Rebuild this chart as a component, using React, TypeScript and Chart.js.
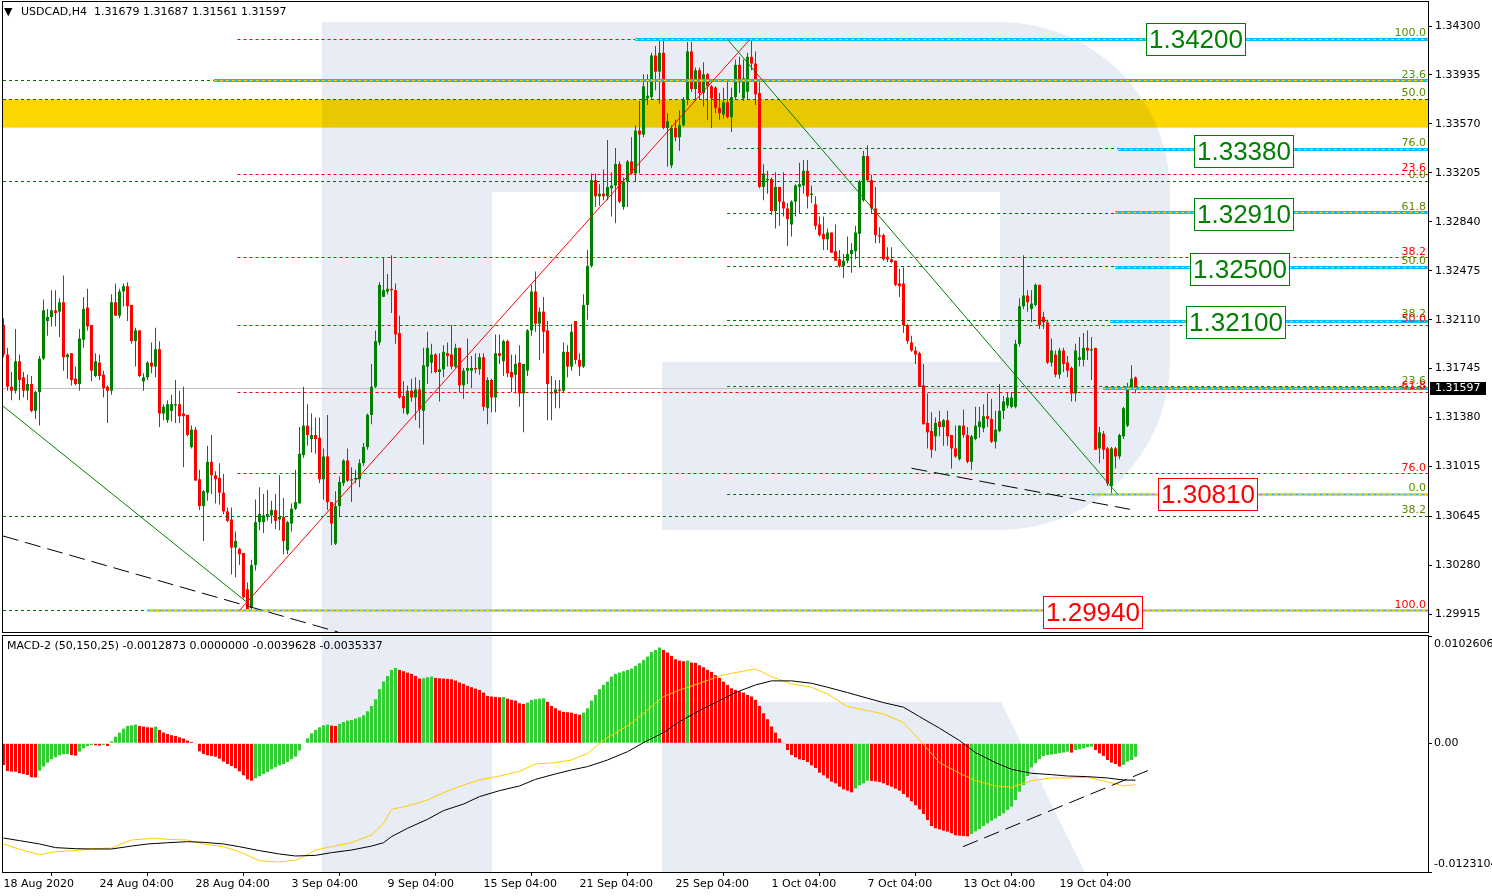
import React, { useEffect, useRef } from "react";
import { Chart, registerables } from "chart.js";
Chart.register(...registerables);

const FONT = "DejaVu Sans";
const TITLE_TEXT = "USDCAD,H4  1.31679 1.31687 1.31561 1.31597";
const MACD_TEXT = "MACD-2 (50,150,25) -0.0012873 0.0000000 -0.0039628 -0.0035337";

// [open, high, low, close] per H4 bar
const OHLC: number[][] = [
  [1.3207,1.3212,1.3183,1.3185],[1.3185,1.3190,1.3158,1.3161],[1.3161,1.3172,1.3151,1.3158],[1.3158,1.3204,1.3156,1.3180],
  [1.3180,1.3185,1.3151,1.3166],[1.3168,1.3172,1.3153,1.3158],[1.3158,1.3170,1.3151,1.3163],[1.3163,1.3169,1.3142,1.3143],
  [1.3143,1.3158,1.3137,1.3157],[1.3157,1.3184,1.3132,1.3182],[1.3182,1.3226,1.3181,1.3218],[1.3210,1.3219,1.3199,1.3213],
  [1.3213,1.3233,1.3206,1.3218],[1.3218,1.3233,1.3206,1.3216],[1.3217,1.3227,1.3198,1.3224],[1.3224,1.3244,1.3173,1.3183],
  [1.3183,1.3186,1.3167,1.3185],[1.3186,1.3186,1.3162,1.3166],[1.3167,1.3176,1.3162,1.3163],[1.3163,1.3204,1.3158,1.3197],
  [1.3196,1.3228,1.3190,1.3219],[1.3220,1.3234,1.3203,1.3206],[1.3207,1.3207,1.3165,1.3173],[1.3169,1.3186,1.3168,1.3180],
  [1.3179,1.3185,1.3166,1.3169],[1.3170,1.3173,1.3153,1.3160],[1.3161,1.3162,1.3134,1.3158],[1.3158,1.3230,1.3155,1.3224],
  [1.3224,1.3238,1.3214,1.3214],[1.3214,1.3234,1.3212,1.3232],[1.3232,1.3238,1.3221,1.3236],[1.3236,1.3239,1.3210,1.3221],
  [1.3222,1.3222,1.3193,1.3195],[1.3195,1.3205,1.3176,1.3203],[1.3203,1.3203,1.3168,1.3169],[1.3165,1.3171,1.3158,1.3168],
  [1.3168,1.3180,1.3166,1.3179],[1.3179,1.3194,1.3171,1.3176],[1.3176,1.3205,1.3168,1.3189],[1.3189,1.3195,1.3131,1.3141],
  [1.3141,1.3148,1.3136,1.3146],[1.3136,1.3151,1.3134,1.3148],[1.3143,1.3155,1.3135,1.3148],[1.3147,1.3166,1.3134,1.3148],
  [1.3148,1.3158,1.3134,1.3139],[1.3141,1.3161,1.3101,1.3139],[1.3140,1.3140,1.3124,1.3125],[1.3116,1.3132,1.3115,1.3129],
  [1.3129,1.3131,1.3091,1.3091],[1.3092,1.3099,1.3069,1.3072],[1.3072,1.3084,1.3046,1.3083],[1.3082,1.3117,1.3076,1.3105],
  [1.3105,1.3125,1.3081,1.3095],[1.3095,1.3098,1.3074,1.3092],[1.3093,1.3104,1.3073,1.3082],[1.3082,1.3096,1.3066,1.3068],
  [1.3068,1.3071,1.3060,1.3061],[1.3062,1.3071,1.3021,1.3041],[1.3041,1.3053,1.3019,1.3046],[1.3040,1.3041,1.3028,1.3036],
  [1.3037,1.3037,1.3003,1.3004],[1.3010,1.3015,1.2994,1.2995],[1.2996,1.3032,1.2994,1.3028],[1.3028,1.3077,1.3024,1.3060],
  [1.3060,1.3086,1.3054,1.3066],[1.3060,1.3081,1.3052,1.3065],[1.3064,1.3084,1.3061,1.3066],[1.3065,1.3076,1.3059,1.3069],
  [1.3069,1.3081,1.3055,1.3061],[1.3062,1.3095,1.3054,1.3064],[1.3064,1.3078,1.3036,1.3046],[1.3039,1.3061,1.3036,1.3060],
  [1.3059,1.3074,1.3053,1.3070],[1.3070,1.3099,1.3069,1.3075],[1.3074,1.3131,1.3074,1.3111],[1.3110,1.3161,1.3108,1.3132],
  [1.3132,1.3148,1.3117,1.3125],[1.3122,1.3141,1.3112,1.3125],[1.3125,1.3138,1.3111,1.3122],[1.3123,1.3138,1.3089,1.3092],
  [1.3092,1.3115,1.3077,1.3109],[1.3109,1.3140,1.3069,1.3075],[1.3075,1.3075,1.3043,1.3059],[1.3044,1.3083,1.3043,1.3072],
  [1.3072,1.3094,1.3064,1.3090],[1.3089,1.3107,1.3087,1.3106],[1.3106,1.3115,1.3090,1.3091],[1.3091,1.3101,1.3075,1.3092],
  [1.3092,1.3099,1.3089,1.3093],[1.3092,1.3107,1.3086,1.3104],[1.3104,1.3119,1.3102,1.3116],[1.3116,1.3141,1.3114,1.3140],
  [1.3140,1.3178,1.3133,1.3161],[1.3161,1.3203,1.3160,1.3195],[1.3194,1.3239,1.3192,1.3237],[1.3228,1.3257,1.3228,1.3233],
  [1.3232,1.3245,1.3230,1.3234],[1.3234,1.3259,1.3216,1.3233],[1.3233,1.3238,1.3193,1.3200],[1.3201,1.3214,1.3152,1.3153],
  [1.3154,1.3165,1.3141,1.3145],[1.3141,1.3162,1.3140,1.3158],[1.3158,1.3167,1.3150,1.3153],[1.3153,1.3168,1.3136,1.3159],
  [1.3159,1.3166,1.3130,1.3144],[1.3143,1.3190,1.3118,1.3177],[1.3176,1.3202,1.3163,1.3190],[1.3179,1.3193,1.3171,1.3185],
  [1.3185,1.3186,1.3171,1.3172],[1.3172,1.3186,1.3150,1.3174],[1.3174,1.3192,1.3168,1.3187],[1.3186,1.3194,1.3176,1.3184],
  [1.3185,1.3207,1.3174,1.3176],[1.3176,1.3193,1.3175,1.3190],[1.3190,1.3190,1.3157,1.3162],[1.3162,1.3175,1.3152,1.3173],
  [1.3173,1.3197,1.3163,1.3175],[1.3173,1.3184,1.3160,1.3175],[1.3175,1.3186,1.3171,1.3174],[1.3174,1.3186,1.3170,1.3183],
  [1.3183,1.3186,1.3143,1.3146],[1.3145,1.3168,1.3133,1.3166],[1.3166,1.3167,1.3142,1.3153],[1.3153,1.3200,1.3142,1.3186],
  [1.3186,1.3200,1.3178,1.3184],[1.3180,1.3196,1.3169,1.3195],[1.3195,1.3196,1.3168,1.3171],[1.3172,1.3185,1.3157,1.3168],
  [1.3170,1.3185,1.3156,1.3178],[1.3179,1.3192,1.3146,1.3156],[1.3156,1.3178,1.3127,1.3178],[1.3173,1.3204,1.3169,1.3203],
  [1.3203,1.3237,1.3199,1.3232],[1.3232,1.3247,1.3202,1.3208],[1.3208,1.3220,1.3181,1.3217],[1.3217,1.3228,1.3186,1.3202],
  [1.3203,1.3210,1.3136,1.3163],[1.3156,1.3169,1.3136,1.3157],[1.3156,1.3166,1.3145,1.3159],[1.3159,1.3166,1.3145,1.3158],
  [1.3158,1.3194,1.3157,1.3187],[1.3187,1.3192,1.3168,1.3176],[1.3176,1.3208,1.3173,1.3202],[1.3210,1.3210,1.3178,1.3181],
  [1.3181,1.3186,1.3169,1.3176],[1.3176,1.3230,1.3175,1.3222],[1.3222,1.3263,1.3211,1.3251],[1.3251,1.3320,1.3250,1.3315],
  [1.3315,1.3320,1.3295,1.3303],[1.3303,1.3312,1.3296,1.3305],[1.3305,1.3323,1.3300,1.3303],[1.3303,1.3345,1.3300,1.3310],
  [1.3309,1.3321,1.3288,1.3311],[1.3311,1.3339,1.3283,1.3327],[1.3327,1.3329,1.3298,1.3299],[1.3295,1.3317,1.3293,1.3314],
  [1.3314,1.3330,1.3295,1.3329],[1.3329,1.3347,1.3319,1.3320],[1.3320,1.3356,1.3314,1.3352],[1.3352,1.3374,1.3320,1.3349],
  [1.3349,1.3394,1.3347,1.3385],[1.3376,1.3394,1.3371,1.3378],[1.3377,1.3410,1.3375,1.3408],[1.3408,1.3415,1.3382,1.3396],
  [1.3396,1.3419,1.3372,1.3410],[1.3410,1.3419,1.3353,1.3354],[1.3354,1.3365,1.3325,1.3359],[1.3326,1.3356,1.3324,1.3354],
  [1.3354,1.3360,1.3344,1.3347],[1.3347,1.3367,1.3337,1.3356],[1.3356,1.3377,1.3355,1.3375],[1.3375,1.3418,1.3371,1.3411],
  [1.3411,1.3418,1.3381,1.3383],[1.3383,1.3399,1.3374,1.3397],[1.3397,1.3399,1.3375,1.3380],[1.3380,1.3403,1.3370,1.3394],
  [1.3394,1.3395,1.3360,1.3385],[1.3385,1.3386,1.3354,1.3376],[1.3384,1.3385,1.3365,1.3369],[1.3369,1.3380,1.3360,1.3365],
  [1.3364,1.3384,1.3361,1.3373],[1.3373,1.3390,1.3361,1.3362],[1.3362,1.3384,1.3351,1.3377],[1.3377,1.3405,1.3375,1.3401],
  [1.3401,1.3407,1.3380,1.3388],[1.3376,1.3405,1.3374,1.3391],[1.3381,1.3410,1.3375,1.3407],[1.3407,1.3420,1.3397,1.3402],
  [1.3402,1.3411,1.3371,1.3379],[1.3380,1.3388,1.3309,1.3310],[1.3310,1.3327,1.3300,1.3320],[1.3315,1.3322,1.3305,1.3316],
  [1.3316,1.3317,1.3289,1.3292],[1.3292,1.3321,1.3279,1.3310],[1.3310,1.3310,1.3281,1.3299],[1.3299,1.3321,1.3288,1.3294],
  [1.3294,1.3298,1.3266,1.3286],[1.3282,1.3300,1.3273,1.3299],[1.3299,1.3312,1.3288,1.3311],[1.3310,1.3328,1.3290,1.3312],
  [1.3311,1.3330,1.3305,1.3322],[1.3322,1.3330,1.3294,1.3303],[1.3304,1.3311,1.3298,1.3305],[1.3297,1.3303,1.3278,1.3281],
  [1.3282,1.3288,1.3273,1.3274],[1.3275,1.3288,1.3263,1.3271],[1.3271,1.3279,1.3263,1.3276],[1.3276,1.3276,1.3261,1.3261],
  [1.3262,1.3282,1.3255,1.3255],[1.3256,1.3263,1.3250,1.3251],[1.3251,1.3260,1.3242,1.3255],[1.3255,1.3273,1.3253,1.3260],
  [1.3260,1.3268,1.3246,1.3263],[1.3262,1.3281,1.3256,1.3276],[1.3275,1.3315,1.3250,1.3314],[1.3300,1.3337,1.3299,1.3333],
  [1.3333,1.3341,1.3314,1.3315],[1.3315,1.3319,1.3290,1.3294],[1.3294,1.3310,1.3268,1.3274],[1.3274,1.3280,1.3268,1.3273],
  [1.3274,1.3275,1.3255,1.3256],[1.3258,1.3265,1.3254,1.3256],[1.3256,1.3265,1.3253,1.3254],[1.3255,1.3255,1.3236,1.3237],
  [1.3238,1.3249,1.3228,1.3236],[1.3238,1.3250,1.3201,1.3207],[1.3207,1.3208,1.3193,1.3195],[1.3194,1.3199,1.3187,1.3188],
  [1.3188,1.3191,1.3178,1.3185],[1.3186,1.3187,1.3161,1.3161],[1.3162,1.3178,1.3133,1.3133],[1.3134,1.3156,1.3115,1.3127],
  [1.3128,1.3142,1.3108,1.3114],[1.3124,1.3138,1.3113,1.3134],[1.3135,1.3143,1.3124,1.3131],[1.3131,1.3137,1.3117,1.3136],
  [1.3136,1.3143,1.3117,1.3124],[1.3125,1.3125,1.3100,1.3115],[1.3115,1.3132,1.3108,1.3109],[1.3107,1.3132,1.3106,1.3132],
  [1.3132,1.3144,1.3123,1.3125],[1.3125,1.3131,1.3104,1.3105],[1.3105,1.3125,1.3099,1.3124],[1.3122,1.3146,1.3121,1.3132],
  [1.3131,1.3146,1.3123,1.3135],[1.3130,1.3148,1.3127,1.3139],[1.3139,1.3156,1.3131,1.3137],[1.3137,1.3152,1.3119,1.3120],
  [1.3120,1.3143,1.3115,1.3129],[1.3128,1.3163,1.3127,1.3143],[1.3143,1.3154,1.3137,1.3150],[1.3147,1.3157,1.3145,1.3153],
  [1.3146,1.3157,1.3145,1.3153],[1.3146,1.3196,1.3145,1.3193],[1.3193,1.3227,1.3191,1.3221],[1.3221,1.3259,1.3219,1.3229],
  [1.3229,1.3233,1.3217,1.3224],[1.3219,1.3233,1.3209,1.3223],[1.3222,1.3238,1.3221,1.3237],[1.3237,1.3237,1.3204,1.3207],
  [1.3213,1.3217,1.3204,1.3209],[1.3209,1.3211,1.3178,1.3179],[1.3179,1.3197,1.3176,1.3188],[1.3185,1.3188,1.3168,1.3170],
  [1.3170,1.3190,1.3167,1.3188],[1.3188,1.3190,1.3172,1.3178],[1.3179,1.3184,1.3168,1.3173],[1.3175,1.3176,1.3150,1.3156],
  [1.3156,1.3193,1.3150,1.3188],[1.3181,1.3198,1.3176,1.3183],[1.3181,1.3201,1.3176,1.3190],[1.3190,1.3203,1.3181,1.3188],
  [1.3188,1.3198,1.3166,1.3189],[1.3190,1.3190,1.3114,1.3114],[1.3115,1.3131,1.3104,1.3127],[1.3126,1.3128,1.3107,1.3114],
  [1.3115,1.3116,1.3087,1.3089],[1.3087,1.3116,1.3081,1.3115],[1.3115,1.3116,1.3100,1.3109],[1.3109,1.3126,1.3107,1.3125],
  [1.3124,1.3146,1.3122,1.3145],[1.3132,1.3164,1.3131,1.3161],[1.3160,1.3177,1.3159,1.3167],[1.31679,1.31687,1.31561,1.31597],
];

const MACD_HIST: number[] = [
  -0.00207,-0.00265,-0.00271,-0.00272,-0.00287,-0.00293,-0.00303,-0.00325,-0.00326,-0.00262,
  -0.00223,-0.00185,-0.00153,-0.00134,-0.00115,-0.00105,-0.00102,-0.00112,-0.00118,-0.00080,
  -0.00048,-0.00026,-0.00016,-0.00019,-0.00022,-0.00016,-0.00026,0.00019,0.00064,0.00102,
  0.00140,0.00166,0.00172,0.00179,0.00166,0.00160,0.00153,0.00150,0.00160,0.00128,
  0.00102,0.00089,0.00077,0.00070,0.00057,0.00045,0.00026,0.00013,-0.00006,-0.00077,
  -0.00102,-0.00115,-0.00121,-0.00128,-0.00147,-0.00175,-0.00198,-0.00217,-0.00239,-0.00268,
  -0.00306,-0.00345,-0.00357,-0.00335,-0.00313,-0.00293,-0.00274,-0.00249,-0.00230,-0.00211,
  -0.00198,-0.00179,-0.00153,-0.00128,-0.00070,0.00006,0.00048,0.00096,0.00128,0.00153,
  0.00172,0.00179,0.00169,0.00166,0.00185,0.00204,0.00217,0.00223,0.00236,0.00249,
  0.00268,0.00306,0.00357,0.00421,0.00517,0.00590,0.00644,0.00702,0.00721,0.00702,
  0.00689,0.00676,0.00664,0.00644,0.00619,0.00622,0.00632,0.00638,0.00625,0.00622,
  0.00619,0.00616,0.00612,0.00600,0.00581,0.00568,0.00549,0.00536,0.00523,0.00510,
  0.00485,0.00453,0.00447,0.00443,0.00440,0.00443,0.00427,0.00415,0.00408,0.00383,
  0.00376,0.00389,0.00415,0.00421,0.00427,0.00431,0.00396,0.00357,0.00335,0.00313,
  0.00300,0.00297,0.00293,0.00281,0.00274,0.00293,0.00335,0.00408,0.00463,0.00517,
  0.00558,0.00590,0.00638,0.00664,0.00676,0.00689,0.00702,0.00715,0.00740,0.00766,
  0.00798,0.00829,0.00874,0.00893,0.00916,0.00893,0.00868,0.00836,0.00804,0.00791,
  0.00785,0.00791,0.00772,0.00769,0.00746,0.00727,0.00702,0.00683,0.00651,0.00625,
  0.00590,0.00558,0.00526,0.00510,0.00494,0.00485,0.00463,0.00447,0.00415,0.00357,
  0.00287,0.00230,0.00160,0.00102,0.00045,-0.00006,-0.00064,-0.00112,-0.00134,-0.00153,
  -0.00160,-0.00179,-0.00211,-0.00236,-0.00281,-0.00306,-0.00335,-0.00367,-0.00383,-0.00415,
  -0.00440,-0.00453,-0.00469,-0.00431,-0.00402,-0.00383,-0.00357,-0.00360,-0.00364,-0.00370,
  -0.00383,-0.00402,-0.00415,-0.00434,-0.00453,-0.00485,-0.00517,-0.00555,-0.00593,-0.00632,
  -0.00676,-0.00734,-0.00791,-0.00813,-0.00823,-0.00836,-0.00845,-0.00861,-0.00880,-0.00884,
  -0.00887,-0.00890,-0.00868,-0.00842,-0.00823,-0.00791,-0.00766,-0.00740,-0.00718,-0.00695,
  -0.00670,-0.00638,-0.00606,-0.00542,-0.00463,-0.00399,-0.00313,-0.00230,-0.00191,-0.00153,
  -0.00121,-0.00112,-0.00108,-0.00102,-0.00093,-0.00089,-0.00080,-0.00089,-0.00064,-0.00057,
  -0.00048,-0.00038,-0.00032,-0.00064,-0.00096,-0.00121,-0.00160,-0.00185,-0.00198,-0.00223,
  -0.00207,-0.00175,-0.00160,-0.00129,
];

// [bar, value] samples of the two MACD lines
const MACD_BLACK: number[][] = [
  [0,-0.00906],[4,-0.00931],[9,-0.00963],[13,-0.00998],[18,-0.01008],[22,-0.01011],[27,-0.01011],[32,-0.00983],
  [36,-0.00963],[41,-0.00951],[46,-0.00941],[50,-0.00947],[55,-0.00963],[59,-0.00989],[64,-0.01027],[69,-0.01059],
  [73,-0.01078],[78,-0.01072],[82,-0.01046],[87,-0.01021],[92,-0.00983],[95,-0.00951],[97,-0.00893],[101,-0.00813],
  [106,-0.00727],[110,-0.00644],[115,-0.00581],[119,-0.00510],[124,-0.00453],[129,-0.00408],[133,-0.00345],[138,-0.00293],
  [142,-0.00255],[146,-0.00223],[151,-0.00160],[156,-0.00080],[160,0.00006],[165,0.00102],[169,0.00207],[174,0.00313],
  [179,0.00408],[183,0.00485],[188,0.00558],[192,0.00597],[197,0.00597],[202,0.00574],[206,0.00536],[211,0.00485],
  [216,0.00431],[220,0.00389],[225,0.00345],[229,0.00255],[234,0.00144],[239,0.00026],[243,-0.00089],[248,-0.00185],
  [252,-0.00249],[257,-0.00287],[262,-0.00300],[266,-0.00313],[271,-0.00319],[276,-0.00332],[280,-0.00351],[283,-0.00353],
];
const MACD_YELLOW: number[][] = [
  [0,-0.00963],[4,-0.01014],[9,-0.01065],[13,-0.01037],[18,-0.01027],[22,-0.01008],[27,-0.01002],[32,-0.00925],
  [36,-0.00912],[38,-0.00906],[41,-0.00919],[46,-0.00925],[50,-0.00963],[55,-0.00989],[59,-0.01037],[64,-0.01123],
  [69,-0.01136],[73,-0.01117],[75,-0.01085],[78,-0.01021],[82,-0.00989],[87,-0.00951],[92,-0.00877],[95,-0.00766],
  [97,-0.00632],[101,-0.00600],[106,-0.00542],[110,-0.00472],[115,-0.00399],[119,-0.00351],[124,-0.00313],[129,-0.00268],
  [133,-0.00198],[138,-0.00185],[142,-0.00160],[146,-0.00096],[151,0.00057],[156,0.00166],[160,0.00287],[165,0.00447],
  [169,0.00510],[174,0.00574],[179,0.00644],[183,0.00676],[188,0.00711],[192,0.00638],[197,0.00568],[202,0.00536],
  [206,0.00472],[211,0.00351],[216,0.00313],[220,0.00281],[225,0.00198],[229,0.00032],[234,-0.00185],[239,-0.00287],
  [243,-0.00357],[248,-0.00408],[252,-0.00421],[257,-0.00357],[262,-0.00332],[266,-0.00332],[271,-0.00325],[276,-0.00370],
  [280,-0.00408],[283,-0.00396],
];

const TIME_TICK_BARS = [0, 24, 48, 72, 96, 120, 144, 168, 192, 216, 240, 264];
const TIME_LABELS = ["18 Aug 2020", "24 Aug 04:00", "28 Aug 04:00", "3 Sep 04:00", "9 Sep 04:00", "15 Sep 04:00",
  "21 Sep 04:00", "25 Sep 04:00", "1 Oct 04:00", "7 Oct 04:00", "13 Oct 04:00", "19 Oct 04:00"];
const PRICE_TICKS = [1.343, 1.33935, 1.3357, 1.33205, 1.3284, 1.32475, 1.3211, 1.31745, 1.3138, 1.31015, 1.30645, 1.3028, 1.29915];
const MACD_TICKS = [0.0102606, 0, -0.0123104];
const MACD_TICK_LABELS = ["0.0102606", "0.00", "-0.0123104"];
const PRICE_RANGE = [1.29781, 1.34479];
const MACD_RANGE = [-0.0123104, 0.0102606];
const BAR_RANGE = [-0.125, 356.125];
const LAST_PRICE = 1.31597;
const ZONE = [1.33542, 1.33753];

// fibonacci levels: [price, label]
const RED_FIB_START = 58.5;
const RED_FIB: [number, string][] = [[1.342, ""], [1.33195, "23.6"], [1.32573, "38.2"], [1.3207, "50.0"], [1.31567, "61.8"], [1.30962, "76.0"], [1.2994, "100.0"]];
const GREEN_FIB_START = 180.9;
const GREEN_FIB: [number, string][] = [[1.342, "100.0"], [1.33386, "76.0"], [1.32905, "61.8"], [1.32505, "50.0"], [1.32105, "38.2"], [1.3161, "23.6"], [1.3081, "0.0"]];
const GREEN_FULL: [number, string][] = [[1.3389, "23.6"], [1.33753, "50.0"], [1.33144, "0.0"], [1.30646, "38.2"], [1.29938, ""]];
// horizontal level lines: [price, start bar]
const BLUE_LEVELS: number[][] = [[1.342, 157.9], [1.3389, 52.6], [1.3338, 278.6], [1.3291, 277.9], [1.325, 277.9], [1.321, 276.6], [1.316, 274.9]];
const GOLD_LEVELS: number[][] = [[1.3081, 272], [1.2994, 35.9]];
// boxed price labels: [text, left bar, price, colour]
const PRICE_BOXES: [string, number, number, string][] = [
  ["1.34200", 285.6, 1.342, "#008000"], ["1.33380", 297.6, 1.3337, "#008000"], ["1.32910", 297.6, 1.329, "#008000"],
  ["1.32500", 296.6, 1.3249, "#008000"], ["1.32100", 295.6, 1.3209, "#008000"], ["1.30810", 288.6, 1.3081, "#FF0000"],
  ["1.29940", 259.8, 1.2993, "#FF0000"],
];
// trend lines: [bar1, price1, bar2, price2, colour, dashed]
const TRENDS: [number, number, number, number, string, boolean][] = [
  [-0.125, 1.31466, 61.6, 1.29985, "#008000", false],
  [59.1, 1.29945, 186.6, 1.342, "#FF0000", false],
  [181, 1.342, 278.5, 1.3081, "#008000", false],
  [-0.125, 1.30497, 83.6, 1.29781, "#000000", true],
  [227.0, 1.31002, 281.6, 1.30696, "#000000", true],
];
const MACD_TREND = [239.85, -0.00989, 286.4, -0.00256];

const BULL = "#008000";
const BEAR = "#FF0000";
const WM = "rgb(232,237,245)";
const LABEL_GREEN = "#5A8C00";

function drawWatermark(ctx: CanvasRenderingContext2D, area: any, offsetY: number) {
  ctx.save();
  ctx.beginPath();
  ctx.rect(area.left, area.top, area.right - area.left, area.bottom - area.top);
  ctx.clip();
  ctx.translate(0, -offsetY);
  ctx.fillStyle = WM;
  ctx.fillRect(322, 22, 170, 850);
  ctx.beginPath();
  ctx.moveTo(492, 22);
  ctx.lineTo(1000, 22);
  ctx.arc(1000, 192, 170, -Math.PI / 2, 0);
  ctx.lineTo(1170, 360);
  ctx.arc(1000, 360, 170, 0, Math.PI / 2);
  ctx.lineTo(662, 530);
  ctx.lineTo(662, 362);
  ctx.lineTo(1000, 362);
  ctx.lineTo(1000, 192);
  ctx.lineTo(492, 192);
  ctx.closePath();
  ctx.fill();
  ctx.beginPath();
  ctx.moveTo(662, 702);
  ctx.lineTo(1001, 702);
  ctx.lineTo(1085, 872);
  ctx.lineTo(662, 872);
  ctx.closePath();
  ctx.fill();
  ctx.restore();
}

function hline(ctx: CanvasRenderingContext2D, x1: number, x2: number, y: number, color: string, width: number, dash: number[]) {
  ctx.save();
  ctx.strokeStyle = color;
  ctx.lineWidth = width;
  ctx.setLineDash(dash);
  const yy = width % 2 === 1 ? Math.round(y - 0.5) + 0.5 : Math.round(y);
  ctx.beginPath();
  ctx.moveTo(x1, yy);
  ctx.lineTo(x2, yy);
  ctx.stroke();
  ctx.restore();
}

function frame(ctx: CanvasRenderingContext2D, area: any) {
  ctx.save();
  ctx.strokeStyle = "#000";
  ctx.lineWidth = 1;
  ctx.strokeRect(area.left - 0.5, area.top - 0.5, area.right - area.left + 1, area.bottom - area.top + 1);
  ctx.restore();
}

const mainPlugin = {
  id: "mt4main",
  beforeDatasetsDraw(chart: any) {
    const { ctx, chartArea: a, scales } = chart;
    drawWatermark(ctx, a, 0);
    const y1 = scales.y.getPixelForValue(ZONE[1]);
    const y2 = scales.y.getPixelForValue(ZONE[0]);
    ctx.save();
    ctx.globalCompositeOperation = "multiply";
    ctx.fillStyle = "#FFD700";
    ctx.fillRect(a.left, y1, a.right - a.left, y2 - y1);
    ctx.restore();
    hline(ctx, a.left, a.right, scales.y.getPixelForValue(LAST_PRICE), "#C0C0C0", 1, []);
  },
  afterDatasetsDraw(chart: any) {
    const { ctx, chartArea: a, scales } = chart;
    const X = (b: number) => scales.x.getPixelForValue(b);
    const Y = (p: number) => scales.y.getPixelForValue(p);
    ctx.save();
    ctx.beginPath();
    ctx.rect(a.left, a.top, a.right - a.left, a.bottom - a.top);
    ctx.clip();
    GREEN_FULL.forEach(([p]) => hline(ctx, a.left, a.right, Y(p), "#007000", 1, [3, 3]));
    RED_FIB.forEach(([p]) => hline(ctx, X(RED_FIB_START), a.right, Y(p), "#FF0000", 1, [3, 3]));
    GREEN_FIB.forEach(([p]) => hline(ctx, X(GREEN_FIB_START), a.right, Y(p), "#007000", 1, [3, 3]));
    BLUE_LEVELS.forEach(([p, b]) => {
      hline(ctx, X(b), a.right, Y(p), "#00BFFF", 3, []);
      hline(ctx, X(b), a.right, Y(p), "#FFD700", 1, [3, 3]);
    });
    GOLD_LEVELS.forEach(([p, b]) => {
      hline(ctx, X(b), a.right, Y(p), "#FFD700", 3, []);
      hline(ctx, X(b), a.right, Y(p), "#40A8FF", 1, [3, 3]);
    });
    TRENDS.forEach(([b1, p1, b2, p2, c, dashed]) => {
      ctx.save();
      ctx.strokeStyle = c;
      ctx.lineWidth = 1;
      ctx.setLineDash(dashed ? [16, 7] : []);
      ctx.beginPath();
      ctx.moveTo(X(b1), Y(p1));
      ctx.lineTo(X(b2), Y(p2));
      ctx.stroke();
      ctx.restore();
    });
    ctx.font = `11px "${FONT}"`;
    ctx.textAlign = "right";
    ctx.textBaseline = "alphabetic";
    const lx = a.right - 2;
    GREEN_FULL.forEach(([p, t]) => { if (t) { ctx.fillStyle = LABEL_GREEN; ctx.fillText(t, lx, Y(p) - 3); } });
    GREEN_FIB.forEach(([p, t]) => { if (t) { ctx.fillStyle = LABEL_GREEN; ctx.fillText(t, lx, Y(p) - 3); } });
    RED_FIB.forEach(([p, t]) => { if (t) { ctx.fillStyle = "#FF0000"; ctx.fillText(t, lx, Y(p) - 3); } });
    PRICE_BOXES.forEach(([t, b, p, c]) => {
      const x0 = Math.round(X(b)) + 0.5;
      const yc = Y(p);
      const y0 = Math.round(yc - 16) + 0.5;
      ctx.fillStyle = "#FFFFFF";
      ctx.fillRect(x0, y0, 99, 32);
      ctx.strokeStyle = c;
      ctx.lineWidth = 1;
      ctx.strokeRect(x0, y0, 99, 32);
      ctx.fillStyle = c;
      ctx.font = `26px "Liberation Sans"`;
      ctx.textAlign = "center";
      ctx.textBaseline = "middle";
      ctx.fillText(t, x0 + 49.5, y0 + 17);
    });
    ctx.restore();
  },
  afterDraw(chart: any) {
    const { ctx, chartArea: a, scales } = chart;
    frame(ctx, a);
    const yp = scales.y.getPixelForValue(LAST_PRICE);
    ctx.save();
    ctx.fillStyle = "#000";
    ctx.fillRect(a.right + 2, Math.round(yp) - 6, 56, 13);
    ctx.fillStyle = "#FFF";
    ctx.font = `11px "${FONT}"`;
    ctx.textAlign = "left";
    ctx.textBaseline = "middle";
    ctx.fillText(LAST_PRICE.toFixed(5), a.right + 7, Math.round(yp) + 0.5);
    ctx.fillStyle = "#000";
    ctx.fillText("\u25BC", 4, 12);
    ctx.fillText(TITLE_TEXT, 21, 12);
    ctx.restore();
  },
};

const macdPlugin = {
  id: "mt4macd",
  beforeDatasetsDraw(chart: any) {
    drawWatermark(chart.ctx, chart.chartArea, 634);
  },
  afterDatasetsDraw(chart: any) {
    const { ctx, chartArea: a, scales } = chart;
    ctx.save();
    ctx.beginPath();
    ctx.rect(a.left, a.top, a.right - a.left, a.bottom - a.top);
    ctx.clip();
    ctx.strokeStyle = "#000";
    ctx.lineWidth = 1;
    ctx.setLineDash([16, 7]);
    ctx.beginPath();
    ctx.moveTo(scales.x.getPixelForValue(MACD_TREND[0]), scales.y.getPixelForValue(MACD_TREND[1]));
    ctx.lineTo(scales.x.getPixelForValue(MACD_TREND[2]), scales.y.getPixelForValue(MACD_TREND[3]));
    ctx.stroke();
    ctx.restore();
  },
  afterDraw(chart: any) {
    const { ctx, chartArea: a, scales } = chart;
    frame(ctx, a);
    ctx.save();
    ctx.font = `11px "${FONT}"`;
    ctx.fillStyle = "#000";
    ctx.textAlign = "left";
    ctx.textBaseline = "middle";
    ctx.fillText(MACD_TEXT, 7, 12);
    const ys = [a.top + 8, scales.y.getPixelForValue(0), a.bottom - 8];
    MACD_TICK_LABELS.forEach((t, i) => ctx.fillText(t, a.right + 6, ys[i]));
    ctx.restore();
  },
};

export default function App() {
  const mainRef = useRef<HTMLCanvasElement>(null);
  const macdRef = useRef<HTMLCanvasElement>(null);

  useEffect(() => {
    document.body.style.margin = "0";
    const candleColors = OHLC.map((c) => (c[3] >= c[0] ? BULL : BEAR));
    const histColors = MACD_HIST.map((v, i) => (i > 0 && v > MACD_HIST[i - 1] ? "#32CD32" : "#FF0000"));
    const font = { family: FONT, size: 11 };

    const main = new Chart(mainRef.current as HTMLCanvasElement, {
      type: "bar",
      data: {
        datasets: [
          {
            data: OHLC.map((c, i) => ({ x: i, y: [c[2], c[1]] })) as any,
            backgroundColor: candleColors,
            barThickness: 1,
            maxBarThickness: 1,
            grouped: false,
            inflateAmount: 0,
            borderWidth: 0,
          } as any,
          {
            data: OHLC.map((c, i) => ({ x: i, y: [c[0], c[3]] })) as any,
            backgroundColor: candleColors,
            barThickness: 3,
            maxBarThickness: 3,
            grouped: false,
            inflateAmount: 0,
            borderWidth: 0,
          } as any,
        ],
      },
      options: {
        animation: false,
        responsive: false,
        devicePixelRatio: 1,
        events: [],
        layout: { padding: { left: 3, top: 2, right: 0, bottom: 2 } },
        plugins: { legend: { display: false }, tooltip: { enabled: false } },
        scales: {
          x: { type: "linear", display: false, min: BAR_RANGE[0], max: BAR_RANGE[1], offset: false, grid: { display: false } },
          y: {
            type: "linear",
            position: "right",
            min: PRICE_RANGE[0],
            max: PRICE_RANGE[1],
            beginAtZero: false,
            afterBuildTicks: (s: any) => { s.ticks = PRICE_TICKS.map((v) => ({ value: v })); },
            afterFit: (s: any) => { s.width = 64; s.paddingTop = 0; s.paddingBottom = 0; },
            ticks: { autoSkip: false, color: "#000", font, padding: 3, callback: (v: any) => Number(v).toFixed(5) },
            grid: { drawOnChartArea: false, drawTicks: true, tickLength: 4, color: "#000" },
            border: { display: true, color: "#000" },
          } as any,
        },
      } as any,
      plugins: [mainPlugin],
    });

    const macd = new Chart(macdRef.current as HTMLCanvasElement, {
      type: "bar",
      data: {
        datasets: [
          { type: "line", data: MACD_YELLOW.map(([x, y]) => ({ x, y })), borderColor: "#FFCC00", borderWidth: 1, pointRadius: 0, tension: 0, order: 1 } as any,
          { type: "line", data: MACD_BLACK.map(([x, y]) => ({ x, y })), borderColor: "#000000", borderWidth: 1, pointRadius: 0, tension: 0, order: 0 } as any,
          {
            type: "bar",
            data: MACD_HIST.map((v, i) => ({ x: i, y: v })),
            backgroundColor: histColors,
            barThickness: 3,
            maxBarThickness: 3,
            grouped: false,
            inflateAmount: 0,
            borderWidth: 0,
            order: 2,
          } as any,
        ],
      },
      options: {
        animation: false,
        responsive: false,
        devicePixelRatio: 1,
        events: [],
        layout: { padding: { left: 3, top: 2, right: 0, bottom: 0 } },
        plugins: { legend: { display: false }, tooltip: { enabled: false } },
        scales: {
          x: {
            type: "linear",
            position: "bottom",
            min: BAR_RANGE[0],
            max: BAR_RANGE[1],
            offset: false,
            afterBuildTicks: (s: any) => { s.ticks = TIME_TICK_BARS.map((v) => ({ value: v })); },
            afterFit: (s: any) => { s.height = 24; s.paddingLeft = 0; s.paddingRight = 0; },
            ticks: {
              autoSkip: false, maxRotation: 0, minRotation: 0, align: "start", padding: 2, color: "#000", font,
              callback: (v: any) => TIME_LABELS[TIME_TICK_BARS.indexOf(Number(v))],
            },
            grid: { drawOnChartArea: false, drawTicks: true, tickLength: 4, color: "#000" },
            border: { display: true, color: "#000" },
          } as any,
          y: {
            type: "linear",
            position: "right",
            min: MACD_RANGE[0],
            max: MACD_RANGE[1],
            beginAtZero: false,
            afterBuildTicks: (s: any) => { s.ticks = MACD_TICKS.map((v) => ({ value: v })); },
            afterFit: (s: any) => { s.width = 64; s.paddingTop = 0; s.paddingBottom = 0; },
            ticks: { display: false },
            grid: { drawOnChartArea: false, drawTicks: true, tickLength: 4, color: "#000" },
            border: { display: true, color: "#000" },
          } as any,
        },
      } as any,
      plugins: [macdPlugin],
    });

    return () => {
      main.destroy();
      macd.destroy();
    };
  }, []);

  return (
    <div style={{ position: "absolute", left: 0, top: 0, width: 1492, height: 896, background: "#fff", overflow: "hidden" }}>
      <canvas ref={mainRef} width={1492} height={634} style={{ position: "absolute", left: 0, top: 0, width: 1492, height: 634 }} />
      <canvas ref={macdRef} width={1492} height={262} style={{ position: "absolute", left: 0, top: 634, width: 1492, height: 262 }} />
    </div>
  );
}
